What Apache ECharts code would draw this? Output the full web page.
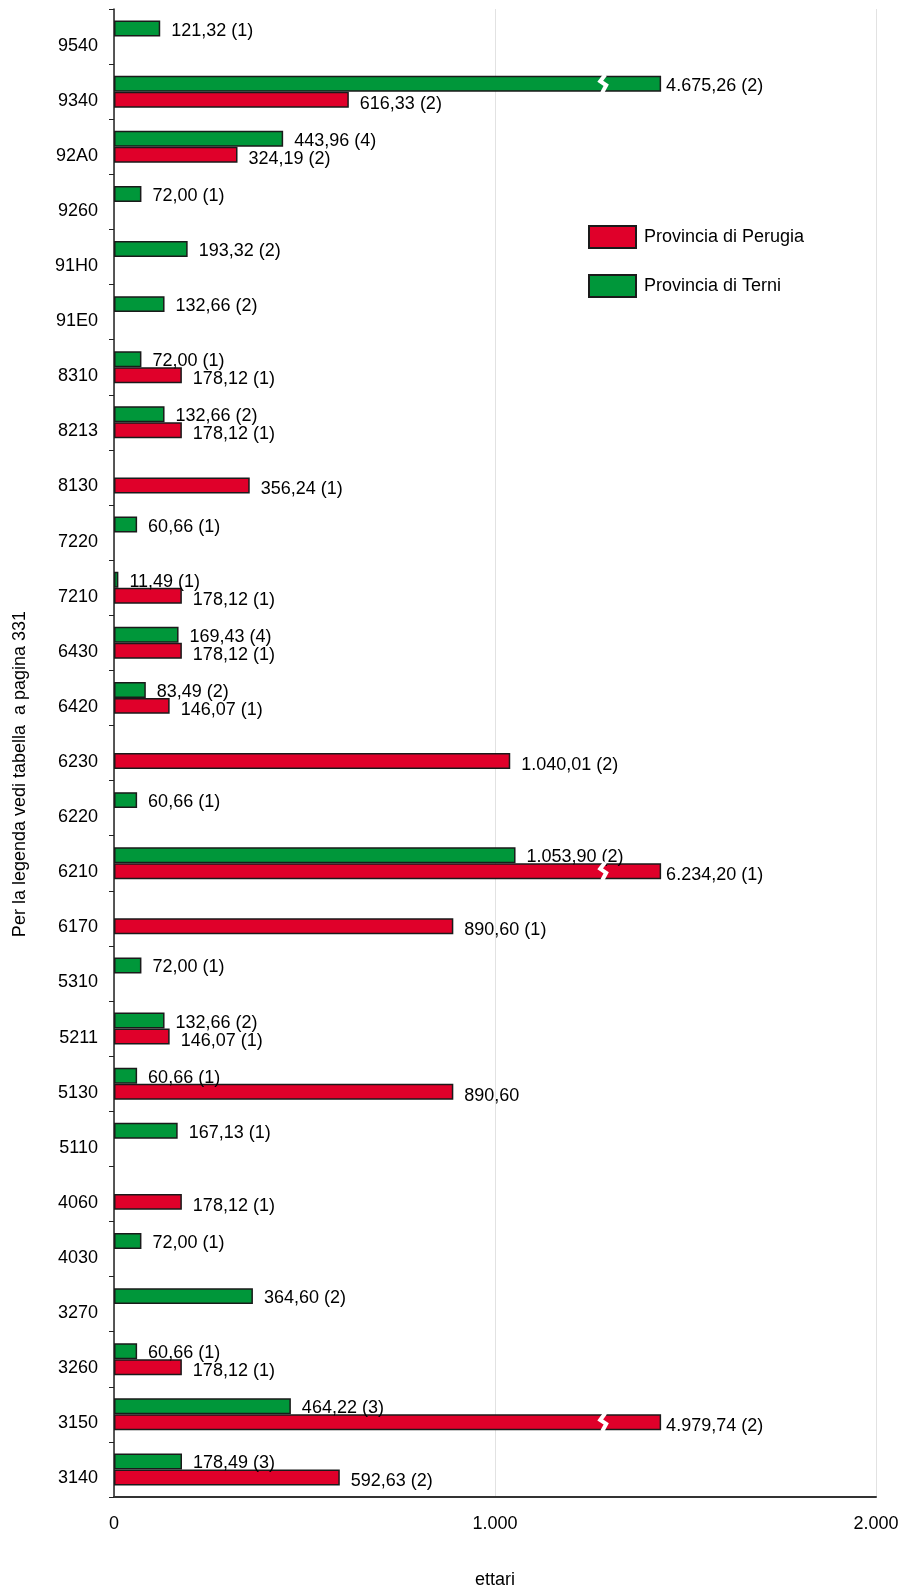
<!DOCTYPE html>
<html>
<head>
<meta charset="utf-8">
<script src="https://cdn.jsdelivr.net/npm/echarts@6/dist/echarts.min.js"></script>
<style>
  html, body { margin: 0; padding: 0; background: #fff; }
  #chart { width: 917px; height: 1590px; }
</style>
</head>
<body>
<div id="chart"></div>
<script>
// habitat codes, bottom to top
const codes = ["3140", "3150", "3260", "3270", "4030", "4060", "5110", "5130", "5211", "5310",
  "6170", "6210", "6220", "6230", "6420", "6430", "7210", "7220", "8130", "8213",
  "8310", "91E0", "91H0", "9260", "92A0", "9340", "9540"];
// ettari, Provincia di Perugia
const perugia = [592.63, 4979.74, 178.12, null, null, 178.12, null, 890.60, 146.07, null,
  890.60, 6234.20, null, 1040.01, 146.07, 178.12, 178.12, null, 356.24, 178.12,
  178.12, null, null, null, 324.19, 616.33, null];
// numero di siti, Perugia
const perugiaN = [2, 2, 1, null, null, 1, null, null, 1, null,
  1, 1, null, 2, 1, 1, 1, null, 1, 1,
  1, null, null, null, 2, 2, null];
// ettari, Provincia di Terni
const terni = [178.49, 464.22, 60.66, 364.60, 72.00, null, 167.13, 60.66, 132.66, 72.00,
  null, 1053.90, 60.66, null, 83.49, 169.43, 11.49, 60.66, null, 132.66,
  72.00, 132.66, 193.32, 72.00, 443.96, 4675.26, 121.32];
const terniN = [3, 3, 1, 2, 1, null, 1, 1, 2, 1,
  null, 2, 1, null, 2, 4, 1, 1, null, 2,
  1, 2, 2, 1, 4, 2, 1];
const xTicks = [0, 1000, 2000];

// bars longer than the axis are drawn cut, with a break mark
const CAP = 1436;
const BREAK_AT = 1284;

function fmt(v) {
  const parts = v.toFixed(2).split(".");
  const int = parts[0].replace(/\B(?=(\d{3})+(?!\d))/g, ".");
  return int + "," + parts[1];
}

function barData(vals, counts) {
  return vals.map((v, i) => {
    if (v == null) return null;
    const txt = fmt(v) + (counts[i] != null ? " (" + counts[i] + ")" : "");
    const item = { value: Math.min(v, CAP), label: { formatter: txt } };
    if (v > CAP) item.label.distance = 5;
    return item;
  });
}

// [x, category index, side] side: -1 upper bar (Terni), +1 lower bar (Perugia)
const breaks = [];
perugia.forEach((v, i) => { if (v != null && v > CAP) breaks.push([BREAK_AT, i, 1]); });
terni.forEach((v, i) => { if (v != null && v > CAP) breaks.push([BREAK_AT, i, -1]); });

const chart = echarts.init(document.getElementById("chart"));
const font = "Liberation Sans, Arial, sans-serif";
const barStyle = { borderColor: "#1a1a1a", borderWidth: 1.5 };
const barLabel = { show: true, position: "right", distance: 11, color: "#000", fontSize: 18, fontFamily: font };

chart.setOption({
  animation: false,
  textStyle: { fontFamily: font },
  grid: { left: 114, right: 41, top: 9, bottom: 93, outerBoundsMode: "none" },
  legend: {
    orient: "vertical",
    left: 583,
    top: 220,
    itemWidth: 47,
    itemHeight: 22,
    itemGap: 25,
    icon: "rect",
    textStyle: { color: "#000", fontSize: 18, padding: [0, 0, 0, 3] },
    data: ["Provincia di Perugia", "Provincia di Terni"]
  },
  xAxis: {
    type: "value",
    min: 0,
    max: 2000,
    interval: 1000,
    name: "ettari",
    nameLocation: "middle",
    nameGap: 74,
    nameTextStyle: { color: "#000", fontSize: 18 },
    axisLine: { show: true, lineStyle: { color: "#333", width: 2 } },
    axisTick: { show: false },
    axisLabel: {
      color: "#000", fontSize: 18, margin: 18,
      formatter: v => xTicks.indexOf(v) >= 0 ? (v === 0 ? "0" : fmt(v).split(",")[0]) : ""
    },
    splitLine: { show: true, lineStyle: { color: "#e2e2e2", width: 1 } }
  },
  yAxis: {
    type: "category",
    data: codes,
    axisLine: { show: true, lineStyle: { color: "#222", width: 1.5 } },
    axisTick: { show: true, length: 5, lineStyle: { color: "#222" } },
    axisLabel: { color: "#000", fontSize: 18, margin: 16, verticalAlign: "top" },
    splitLine: { show: false }
  },
  graphic: [{
    type: "text",
    x: 20,
    y: 774,
    rotation: Math.PI / 2,
    style: {
      text: "Per la legenda vedi tabella  a pagina 331",
      font: "18px " + font,
      fill: "#000",
      textAlign: "center",
      textVerticalAlign: "middle"
    }
  }],
  series: [
    {
      name: "Provincia di Terni",
      type: "bar",
      barWidth: "29%",
      barGap: "0%",
      itemStyle: Object.assign({ color: "#00973a" }, barStyle),
      label: Object.assign({ offset: [0, 2] }, barLabel),
      data: barData(terni, terniN)
    },
    {
      name: "Provincia di Perugia",
      type: "bar",
      barWidth: "29%",
      barGap: "0%",
      itemStyle: Object.assign({ color: "#e0002a" }, barStyle),
      label: Object.assign({ offset: [0, 4] }, barLabel),
      data: barData(perugia, perugiaN)
    },
    {
      type: "custom",
      silent: true,
      z: 5,
      data: breaks,
      renderItem: (params, api) => {
        const p = api.coord([api.value(0), api.value(1)]);
        const band = api.size([0, 1])[1];
        const h = band * 0.29;
        const side = api.value(2);
        const top = side > 0 ? p[1] : p[1] - h;
        const x = p[0];
        return {
          type: "polyline",
          shape: {
            points: [
              [x + 2, top - 1],
              [x - 3, top + h * 0.35],
              [x + 3, top + h * 0.6],
              [x - 1, top + h + 1]
            ]
          },
          style: { stroke: "#fff", lineWidth: 4, fill: null }
        };
      }
    }
  ]
});
</script>
</body>
</html>
